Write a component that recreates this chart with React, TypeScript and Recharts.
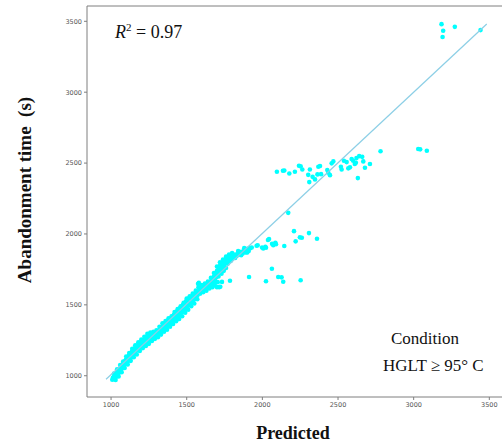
import React from "react";
import {
  ScatterChart,
  Scatter,
  XAxis,
  YAxis,
  ReferenceLine,
  Label,
} from "recharts";

type Pt = [number, number];

// dense band along the diagonal (predicted, observed)
const mainBand: Pt[] = [
  [1008, 972], [1012, 985], [1015, 978], [1018, 992], [1022, 980], [1025, 1000], [1028, 988], [1032, 1012],
  [1035, 995], [1038, 1020], [1042, 1005], [1045, 1030], [1048, 1015], [1052, 1040], [1055, 1025], [1058, 1048],
  [1062, 1035], [1065, 1060], [1068, 1045], [1072, 1075], [1075, 1058], [1078, 1085], [1082, 1066], [1085, 1095],
  [1088, 1078], [1092, 1102], [1095, 1085], [1098, 1112], [1102, 1092], [1105, 1120], [1108, 1100], [1112, 1130],
  [1115, 1108], [1118, 1142], [1122, 1118], [1125, 1150], [1128, 1128], [1132, 1160], [1135, 1138], [1138, 1170],
  [1142, 1145], [1145, 1175], [1148, 1155], [1152, 1185], [1155, 1162], [1158, 1195], [1162, 1170], [1165, 1200],
  [1168, 1180], [1172, 1210], [1175, 1188], [1178, 1215], [1182, 1195], [1185, 1222], [1188, 1200], [1192, 1230],
  [1195, 1210], [1198, 1238], [1202, 1215], [1205, 1245], [1210, 1222], [1215, 1252], [1220, 1230], [1225, 1260],
  [1230, 1238], [1235, 1270], [1240, 1245], [1245, 1278], [1250, 1252], [1255, 1285], [1260, 1260], [1265, 1290],
  [1270, 1268], [1275, 1298], [1280, 1275], [1285, 1305], [1290, 1280], [1295, 1300], [1300, 1288], [1305, 1310],
  [1310, 1295], [1315, 1318], [1320, 1302], [1325, 1330], [1330, 1310], [1335, 1345], [1340, 1320], [1345, 1355],
  [1350, 1330], [1355, 1368], [1360, 1338], [1365, 1375], [1370, 1350], [1375, 1382], [1380, 1360], [1385, 1395],
  [1390, 1368], [1395, 1405], [1400, 1375], [1405, 1418], [1410, 1388], [1415, 1430], [1420, 1395], [1425, 1440],
  [1430, 1410], [1435, 1455], [1440, 1420], [1445, 1462], [1450, 1430], [1455, 1475], [1460, 1440], [1465, 1485],
  [1470, 1450], [1475, 1500], [1480, 1462], [1485, 1510], [1490, 1470], [1495, 1525], [1500, 1480], [1505, 1535],
  [1510, 1495], [1515, 1545], [1520, 1505], [1525, 1552], [1530, 1515], [1535, 1560], [1540, 1525], [1545, 1570],
  [1550, 1540], [1555, 1580], [1560, 1555], [1565, 1590], [1570, 1565], [1575, 1648], [1578, 1625], [1582, 1600],
  [1585, 1580], [1590, 1610], [1595, 1590], [1600, 1620], [1605, 1600], [1610, 1630], [1615, 1605], [1620, 1635],
  [1625, 1612], [1630, 1640], [1635, 1618], [1640, 1648], [1645, 1625], [1650, 1655], [1655, 1630], [1660, 1660],
  [1665, 1640], [1670, 1668], [1675, 1650], [1680, 1700], [1685, 1680], [1690, 1720], [1695, 1695], [1700, 1740],
  [1705, 1710], [1710, 1760], [1715, 1730], [1720, 1775], [1725, 1750], [1730, 1790], [1735, 1765], [1740, 1800],
  [1745, 1780], [1750, 1815], [1755, 1795], [1760, 1825], [1765, 1805], [1770, 1835], [1775, 1812], [1780, 1840],
  [1785, 1820], [1790, 1838], [1795, 1825], [1800, 1845], [1810, 1835], [1820, 1855], [1830, 1845], [1840, 1865],
  [1850, 1855], [1860, 1875], [1870, 1862], [1880, 1885], [1890, 1870], [1900, 1895], [1910, 1880], [1920, 1900],
  [1685, 1640], [1700, 1625], [1715, 1625], [1722, 1628], [1733, 1662], [1705, 1660], [1760, 1760], [1745, 1740],
];

// extra scatter that widens the band
const bandSpread: Pt[] = [
  [1020, 1015], [1030, 970], [1040, 1045], [1050, 995], [1060, 1075], [1070, 1025], [1080, 1100], [1090, 1055],
  [1100, 1135], [1110, 1080], [1120, 1160], [1130, 1105], [1140, 1190], [1150, 1130], [1160, 1215], [1170, 1150],
  [1180, 1235], [1190, 1175], [1200, 1255], [1210, 1195], [1220, 1275], [1230, 1210], [1240, 1295], [1250, 1225],
  [1260, 1305], [1270, 1245], [1280, 1310], [1290, 1260], [1300, 1320], [1310, 1272], [1320, 1345], [1330, 1290],
  [1340, 1370], [1350, 1310], [1360, 1385], [1370, 1325], [1380, 1405], [1390, 1345], [1400, 1420], [1410, 1365],
  [1420, 1450], [1430, 1385], [1440, 1470], [1450, 1400], [1460, 1490], [1470, 1420], [1480, 1515], [1490, 1445],
  [1500, 1545], [1510, 1465], [1520, 1560], [1530, 1490], [1540, 1580], [1550, 1510], [1560, 1600], [1570, 1540],
  [1580, 1655], [1590, 1580], [1600, 1640], [1610, 1590], [1620, 1650], [1630, 1600], [1640, 1665], [1650, 1615],
  [1660, 1690], [1670, 1625], [1680, 1725], [1690, 1660], [1700, 1770], [1710, 1700], [1720, 1800], [1730, 1720],
  [1740, 1820], [1750, 1760], [1760, 1840], [1770, 1790], [1780, 1855], [1790, 1810], [1800, 1865], [1820, 1830],
  [1840, 1880], [1860, 1850], [1880, 1900], [1900, 1870], [1930, 1905],
];

const upperBand: Pt[] = [
  [2096, 2439], [2136, 2446], [2145, 2448], [2178, 2427], [2215, 2439], [2242, 2481], [2253, 2477], [2264, 2455],
  [2314, 2455], [2303, 2417], [2310, 2366], [2332, 2403], [2348, 2385], [2370, 2474], [2381, 2479], [2364, 2420],
  [2388, 2422], [2429, 2451], [2436, 2432], [2447, 2415], [2458, 2498], [2469, 2512], [2519, 2474], [2524, 2455],
  [2539, 2516], [2557, 2507], [2568, 2463], [2579, 2470], [2590, 2528], [2600, 2516], [2618, 2502], [2622, 2535],
  [2611, 2493], [2640, 2549], [2660, 2544], [2667, 2512], [2678, 2467], [2711, 2493], [2631, 2394], [2781, 2583],
  [3030, 2599], [3043, 2597], [3087, 2587],
];

const midCluster: Pt[] = [
  [1962, 1917], [1998, 1905], [2020, 1910], [2064, 1931], [2086, 1938], [1969, 1920], [2006, 1898], [2024, 1903],
  [2037, 1957], [2044, 1964], [2072, 1920], [2090, 1927], [2145, 1915], [2209, 2020], [2220, 1948], [2248, 1976],
  [2261, 1973], [2308, 2006], [2361, 1966], [2171, 2149],
];

const lowOutliers: Pt[] = [
  [1912, 1696], [2063, 1755], [2024, 1666], [2105, 1696], [2127, 1694], [2138, 1663], [2253, 1673], [1786, 1670],
];

const topPoints: Pt[] = [
  [3184, 3480], [3195, 3433], [3191, 3389], [3272, 3461], [3442, 3438],
];

const fitLine: Pt[] = [
  [967, 975],
  [3483, 3481],
];

const xTicks = [1000, 1500, 2000, 2500, 3000, 3500];
const yTicks = [1000, 1500, 2000, 2500, 3000, 3500];

const toObj = (arr: Pt[]) => arr.map(([x, y]) => ({ x, y }));
const points = toObj([
  ...mainBand,
  ...bandSpread,
  ...midCluster,
  ...lowOutliers,
  ...upperBand,
  ...topPoints,
]);
const lineData = toObj(fitLine);

const tickStyle = { fontSize: 6.5, fill: "#555", stroke: "none", fontFamily: "DejaVu Sans" };

const Dot = (props: any) => <circle cx={props.cx} cy={props.cy} r={2.3} fill="#00FFFF" />;

export default function App() {
  return (
    <div
      style={{
        position: "absolute",
        left: 0,
        top: 0,
        width: 502,
        height: 443,
        overflow: "hidden",
        background: "#fff",
      }}
    >
      <ScatterChart width={510} height={443} margin={{ top: 6, right: 6, bottom: 0, left: 0 }}>
        <XAxis
          type="number"
          dataKey="x"
          domain={[841, 3597]}
          allowDataOverflow
          ticks={xTicks}
          height={46}
          tick={tickStyle}
          tickSize={3}
          tickMargin={2}
          stroke="#7f7f7f"
        >
          <Label
            content={() => (
              <text
                x={293}
                y={439}
                textAnchor="middle"
                fontFamily="Liberation Serif"
                fontWeight="bold"
                fontSize={18}
                fill="#111"
              >
                Predicted
              </text>
            )}
          />
        </XAxis>
        <YAxis
          type="number"
          dataKey="y"
          domain={[850, 3608]}
          allowDataOverflow
          ticks={yTicks}
          width={87}
          tick={tickStyle}
          tickSize={3}
          tickMargin={2}
          stroke="#7f7f7f"
        >
          <Label
            content={() => (
              <text
                x={31}
                y={190}
                transform="rotate(-90 31 190)"
                textAnchor="middle"
                fontFamily="Liberation Serif"
                fontWeight="bold"
                fontSize={19}
                fill="#111"
                style={{ whiteSpace: "pre" }}
              >
                {"Abandonment time  (s)"}
              </text>
            )}
          />
        </YAxis>
        <ReferenceLine y={3608} stroke="#7f7f7f" />
        <Scatter data={points} fill="#00FFFF" shape={Dot} isAnimationActive={false} />
        <Scatter
          data={lineData}
          line={{ stroke: "#8ccfe6", strokeWidth: 1.2 }}
          shape={() => <g />}
          isAnimationActive={false}
        />
      </ScatterChart>
      <svg
        width={502}
        height={443}
        style={{ position: "absolute", left: 0, top: 0, pointerEvents: "none" }}
      >
        <text x={115} y={38} fontFamily="Liberation Serif" fontSize={18} fill="#111">
          <tspan fontStyle="italic">R</tspan>
          <tspan dy={-7} fontSize={11}>2</tspan>
          <tspan dy={7}>{" = 0.97"}</tspan>
        </text>
        <text x={391} y={344} fontFamily="Liberation Serif" fontSize={17} fill="#111">
          Condition
        </text>
        <text x={383} y={371} fontFamily="Liberation Serif" fontSize={17} fill="#111">
          HGLT ≥ 95° C
        </text>
      </svg>
    </div>
  );
}
